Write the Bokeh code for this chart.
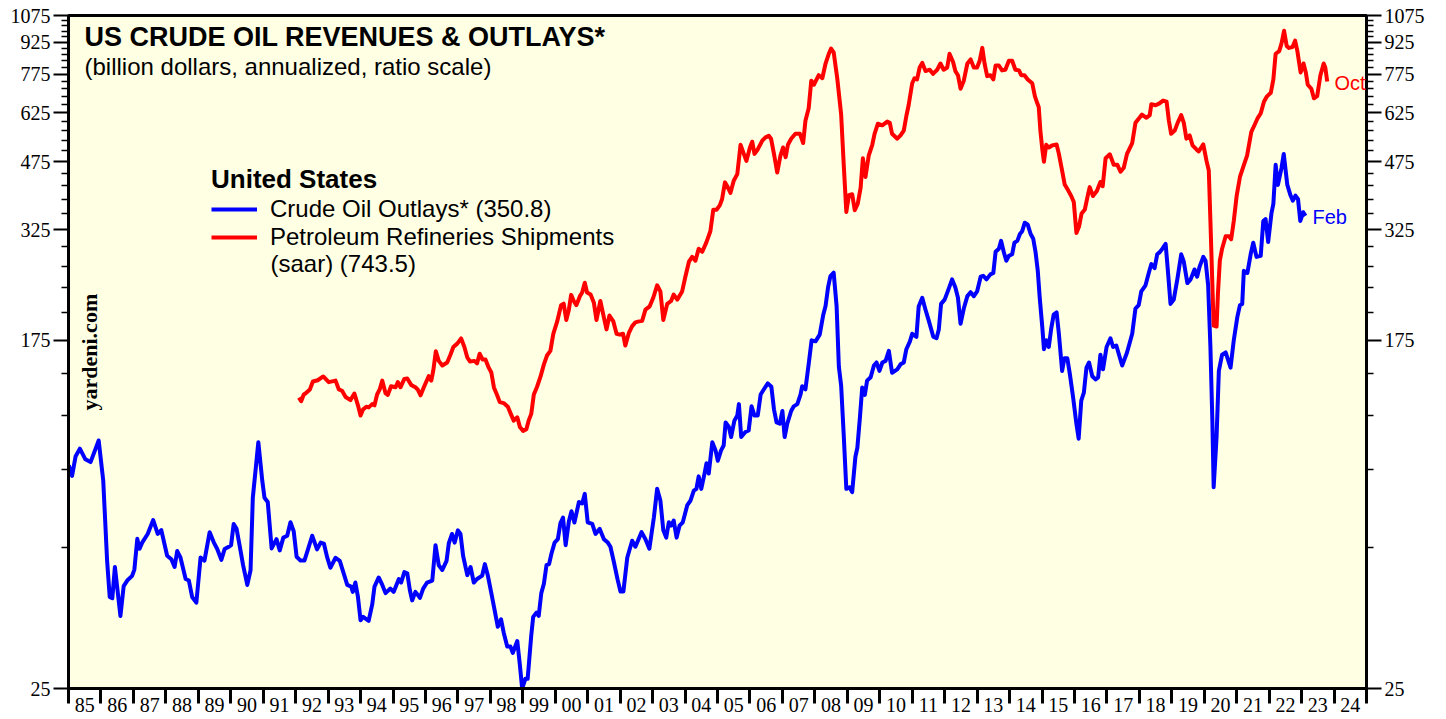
import math
from bokeh.plotting import figure
from bokeh.models import (FixedTicker, LogAxis, PrintfTickFormatter, Label,
                          Legend, LegendItem)
from bokeh.embed import file_html
from bokeh.resources import INLINE

# ---------------- data ----------------
year_labels = ["85", "86", "87", "88", "89", "90", "91", "92", "93", "94", "95", "96", "97", "98",
               "99", "00", "01", "02", "03", "04", "05", "06", "07", "08", "09", "10", "11", "12",
               "13", "14", "15", "16", "17", "18", "19", "20", "21", "22", "23", "24"]
year_starts = list(range(1985, 2026))
ytick_major = [25, 175, 325, 475, 625, 775, 925, 1075]

# Crude Oil Outlays (blue), billion dollars
outlay_dates = [
    1985.01, 1985.11, 1985.22, 1985.35, 1985.52, 1985.68, 1985.93, 1986.07, 1986.19, 1986.27,
    1986.35, 1986.43, 1986.60, 1986.70, 1986.81, 1986.96, 1987.03, 1987.12, 1987.19, 1987.27,
    1987.44, 1987.61, 1987.75, 1987.86, 1988.04, 1988.17, 1988.27, 1988.35, 1988.45, 1988.61,
    1988.71, 1988.81, 1988.94, 1989.07, 1989.19, 1989.35, 1989.48, 1989.58, 1989.71, 1989.81,
    1989.94, 1990.01, 1990.09, 1990.18, 1990.30, 1990.38, 1990.51, 1990.61, 1990.68, 1990.85,
    1990.97, 1991.04, 1991.14, 1991.26, 1991.41, 1991.51, 1991.62, 1991.74, 1991.84, 1991.94,
    1992.03, 1992.15, 1992.27, 1992.37, 1992.51, 1992.66, 1992.77, 1992.87, 1992.97, 1993.07,
    1993.23, 1993.36, 1993.48, 1993.59, 1993.71, 1993.76, 1993.84, 1993.92, 1994.00, 1994.08,
    1994.25, 1994.36, 1994.43, 1994.56, 1994.67, 1994.77, 1994.92, 1995.02, 1995.18, 1995.25,
    1995.35, 1995.44, 1995.52, 1995.59, 1995.69, 1995.83, 1995.93, 1996.05, 1996.21, 1996.31,
    1996.41, 1996.52, 1996.65, 1996.72, 1996.82, 1996.90, 1997.00, 1997.08, 1997.16, 1997.29,
    1997.39, 1997.49, 1997.59, 1997.75, 1997.83, 1997.92, 1998.03, 1998.13, 1998.23, 1998.33,
    1998.41, 1998.52, 1998.62, 1998.69, 1998.83, 1998.91, 1998.98, 1999.08, 1999.15, 1999.26,
    1999.32, 1999.42, 1999.49, 1999.57, 1999.65, 1999.73, 1999.81, 1999.88, 1999.98, 2000.08,
    2000.16, 2000.24, 2000.32, 2000.42, 2000.50, 2000.59, 2000.73, 2000.83, 2000.91, 2001.00,
    2001.14, 2001.24, 2001.37, 2001.50, 2001.62, 2001.70, 2001.80, 2001.92, 2002.01, 2002.10,
    2002.22, 2002.37, 2002.47, 2002.66, 2002.78, 2002.90, 2003.04, 2003.14, 2003.24, 2003.33,
    2003.42, 2003.50, 2003.57, 2003.65, 2003.74, 2003.83, 2003.93, 2004.07, 2004.17, 2004.27,
    2004.35, 2004.42, 2004.50, 2004.60, 2004.66, 2004.73, 2004.84, 2004.94, 2005.01, 2005.11,
    2005.19, 2005.25, 2005.35, 2005.42, 2005.52, 2005.61, 2005.66, 2005.73, 2005.86, 2005.96,
    2006.05, 2006.14, 2006.24, 2006.33, 2006.43, 2006.55, 2006.66, 2006.74, 2006.82, 2006.92,
    2007.00, 2007.07, 2007.15, 2007.27, 2007.35, 2007.46, 2007.56, 2007.61, 2007.71, 2007.81,
    2007.90, 2008.02, 2008.15, 2008.26, 2008.33, 2008.41, 2008.48, 2008.58, 2008.67, 2008.74,
    2008.81, 2008.89, 2008.97, 2009.07, 2009.15, 2009.25, 2009.31, 2009.39, 2009.46, 2009.54,
    2009.61, 2009.72, 2009.82, 2009.90, 2009.99, 2010.08, 2010.18, 2010.28, 2010.38, 2010.54,
    2010.64, 2010.74, 2010.82, 2010.93, 2011.00, 2011.13, 2011.20, 2011.31, 2011.41, 2011.51,
    2011.65, 2011.75, 2011.82, 2011.89, 2012.00, 2012.13, 2012.23, 2012.33, 2012.41, 2012.49,
    2012.59, 2012.70, 2012.80, 2012.90, 2013.00, 2013.11, 2013.19, 2013.29, 2013.41, 2013.50,
    2013.57, 2013.67, 2013.74, 2013.82, 2013.90, 2013.98, 2014.08, 2014.15, 2014.24, 2014.32,
    2014.39, 2014.47, 2014.56, 2014.65, 2014.73, 2014.80, 2014.87, 2014.93, 2015.01, 2015.06,
    2015.14, 2015.21, 2015.28, 2015.36, 2015.45, 2015.52, 2015.62, 2015.69, 2015.78, 2015.86,
    2015.96, 2016.06, 2016.13, 2016.21, 2016.29, 2016.37, 2016.45, 2016.55, 2016.65, 2016.73,
    2016.80, 2016.88, 2016.99, 2017.11, 2017.19, 2017.29, 2017.47, 2017.62, 2017.78, 2017.88,
    2017.98, 2018.06, 2018.19, 2018.29, 2018.37, 2018.47, 2018.55, 2018.63, 2018.71, 2018.81,
    2018.88, 2018.96, 2019.06, 2019.17, 2019.29, 2019.37, 2019.48, 2019.58, 2019.70, 2019.78,
    2019.86, 2019.97, 2020.04, 2020.12, 2020.19, 2020.25, 2020.29, 2020.38, 2020.45, 2020.55,
    2020.66, 2020.81, 2020.91, 2021.02, 2021.10, 2021.17, 2021.22, 2021.33, 2021.43, 2021.51,
    2021.61, 2021.74, 2021.82, 2021.89, 2021.97, 2022.07, 2022.13, 2022.20, 2022.27, 2022.38,
    2022.45, 2022.56, 2022.66, 2022.73, 2022.81, 2022.89, 2022.96, 2023.05, 2023.12]
outlay_values = [
    87, 82, 91.6, 95.5, 90, 88.6, 100, 80, 51, 41.7,
    41.4, 49.3, 37.5, 44.3, 45.7, 46.9, 48.6, 57.7, 54.6, 56.5,
    59.3, 64.1, 59.3, 60.6, 52.5, 51.5, 49.3, 53.9, 52, 46.1,
    45.7, 41.7, 40.4, 52, 51.1, 59.9, 56.5, 54.6, 51.3, 54.5,
    55.2, 55.7, 62.7, 61, 54.1, 49.8, 44.6, 48.4, 72.6, 99,
    80, 72.6, 70.9, 54.7, 57.6, 54.1, 58.1, 58.7, 63.3, 60.2,
    52.2, 51.1, 51.1, 54.1, 58.7, 54.4, 56.5, 56.2, 52.1, 49.1,
    51.9, 51, 47.6, 44.6, 44.2, 42.9, 45.2, 41.7, 36.6, 37.3,
    36.5, 40, 44.2, 46.5, 44.6, 42.6, 43.7, 42.9, 46.1, 45.2,
    47.9, 47.6, 43.3, 40.9, 42.9, 41.5, 43.7, 45.2, 45.7, 55.7,
    49.8, 48.5, 51, 56.3, 59.3, 56.5, 60.5, 59.3, 52.5, 47.1,
    49.3, 45.2, 46.1, 47, 50.1, 47.1, 42.6, 38.8, 35.3, 36.8,
    34.2, 31.6, 31.6, 30.5, 32.6, 28.5, 25, 26.4, 26.4, 33.6,
    37.3, 38.2, 37.5, 42.6, 44.9, 49.8, 50.1, 53, 56.5, 57.6,
    63, 65, 55.7, 63.7, 67.3, 63.2, 70.9, 70.3, 74.2, 63.3,
    62.7, 59.3, 61, 57.6, 56.5, 55.2, 51, 46, 43, 43,
    52, 57.1, 55.2, 59.9, 57.6, 54.6, 65.1, 76.3, 71.5, 60.5,
    58.1, 63.3, 62.1, 63.9, 58.1, 62.1, 63.3, 69.7, 71.5, 75.5,
    76.3, 81.8, 76.3, 83.1, 88, 83.1, 99, 94.6, 89.3, 94.6,
    97.2, 110.6, 107.8, 101.9, 111.7, 114.9, 122.5, 102, 104.8, 105.7,
    121, 114.9, 114.9, 129.3, 133.1, 137.6, 135, 119, 110.6, 109.8,
    117.9, 101.9, 109.8, 117.9, 121, 122.5, 129.3, 135.4, 133.1, 153.3,
    175, 174, 180.6, 202, 212, 236, 250.6, 255.3, 212, 151,
    136, 103, 76.3, 77, 74.9, 91.3, 96, 114, 134.5, 129,
    139.7, 142.3, 152, 154.6, 147.5, 154.6, 156, 165, 146, 148.8,
    153, 154.6, 166.5, 174, 181.5, 178.5, 211.5, 222, 207.7, 195.3,
    178.5, 177, 186, 214.5, 219.7, 234, 246, 235, 222, 192,
    209, 224, 229, 224, 230, 249.7, 251, 246, 253, 255,
    287, 292, 305, 287, 273, 280.6, 283, 302, 305, 317,
    322, 337.7, 334, 317, 308.7, 287, 258, 222, 188, 166.5,
    175, 168.6, 186, 202, 204.5, 181.5, 147.5, 158.3, 158.3, 144.7,
    127, 109.8, 101, 125, 130.6, 150.2, 154.6, 143.2, 140.7, 142.3,
    161.5, 148.8, 168.6, 177, 168.6, 170, 152, 163.5, 181.5, 209,
    213, 230, 238, 255, 268, 262, 283, 286.5, 292, 300,
    258, 214.5, 219.7, 246, 283, 271.5, 241, 246, 260, 249.7,
    264.6, 279, 273, 238, 168.6, 111.7, 77, 102, 147.5, 161.5,
    163.5, 150.2, 175, 199.5, 213, 214.5, 258, 255, 283, 302,
    279, 280.6, 341, 344.5, 303, 355.6, 375, 466.6, 417, 458,
    496, 417, 393, 382, 393, 385, 341, 358, 350.8]

# Petroleum Refineries Shipments (red), billion dollars, saar
ship_dates = [
    1992.10, 1992.17, 1992.25, 1992.30, 1992.44, 1992.53, 1992.68, 1992.85, 1993.02, 1993.23,
    1993.33, 1993.43, 1993.54, 1993.69, 1993.81, 1993.92, 1994.00, 1994.08, 1994.18, 1994.25,
    1994.36, 1994.43, 1994.51, 1994.59, 1994.67, 1994.77, 1994.84, 1994.94, 1995.08, 1995.15,
    1995.23, 1995.35, 1995.44, 1995.56, 1995.69, 1995.76, 1995.85, 1995.95, 1996.10, 1996.18,
    1996.24, 1996.32, 1996.41, 1996.52, 1996.67, 1996.77, 1996.86, 1996.98, 1997.10, 1997.20,
    1997.29, 1997.37, 1997.51, 1997.59, 1997.67, 1997.76, 1997.85, 1997.95, 1998.03, 1998.11,
    1998.21, 1998.29, 1998.41, 1998.54, 1998.62, 1998.72, 1998.83, 1998.91, 1999.01, 1999.11,
    1999.18, 1999.26, 1999.34, 1999.44, 1999.55, 1999.65, 1999.75, 1999.85, 1999.94, 2000.06,
    2000.18, 2000.26, 2000.34, 2000.42, 2000.49, 2000.57, 2000.65, 2000.76, 2000.83, 2000.91,
    2000.98, 2001.09, 2001.19, 2001.27, 2001.39, 2001.48, 2001.58, 2001.67, 2001.79, 2001.89,
    2001.99, 2002.09, 2002.16, 2002.27, 2002.37, 2002.47, 2002.58, 2002.68, 2002.78, 2002.91,
    2003.02, 2003.14, 2003.24, 2003.33, 2003.45, 2003.57, 2003.65, 2003.76, 2003.91, 2004.01,
    2004.12, 2004.22, 2004.32, 2004.42, 2004.53, 2004.66, 2004.78, 2004.87, 2004.97, 2005.07,
    2005.14, 2005.23, 2005.30, 2005.40, 2005.50, 2005.61, 2005.71, 2005.81, 2005.89, 2006.00,
    2006.07, 2006.14, 2006.24, 2006.38, 2006.48, 2006.58, 2006.65, 2006.74, 2006.84, 2006.94,
    2007.02, 2007.10, 2007.17, 2007.27, 2007.40, 2007.54, 2007.64, 2007.71, 2007.81, 2007.89,
    2007.97, 2008.12, 2008.23, 2008.33, 2008.43, 2008.50, 2008.58, 2008.69, 2008.81, 2008.89,
    2008.97, 2009.05, 2009.15, 2009.23, 2009.32, 2009.41, 2009.48, 2009.56, 2009.66, 2009.77,
    2009.84, 2009.94, 2010.08, 2010.23, 2010.31, 2010.38, 2010.54, 2010.64, 2010.74, 2010.82,
    2010.89, 2011.00, 2011.07, 2011.15, 2011.23, 2011.31, 2011.41, 2011.54, 2011.64, 2011.77,
    2011.87, 2011.97, 2012.08, 2012.15, 2012.26, 2012.33, 2012.41, 2012.49, 2012.59, 2012.70,
    2012.80, 2012.90, 2013.00, 2013.08, 2013.16, 2013.23, 2013.31, 2013.41, 2013.50, 2013.57,
    2013.67, 2013.77, 2013.87, 2013.98, 2014.08, 2014.18, 2014.29, 2014.36, 2014.46, 2014.56,
    2014.70, 2014.78, 2014.85, 2014.90, 2014.95, 2015.01, 2015.06, 2015.13, 2015.21, 2015.31,
    2015.45, 2015.52, 2015.62, 2015.70, 2015.81, 2015.90, 2015.98, 2016.06, 2016.14, 2016.22,
    2016.32, 2016.41, 2016.47, 2016.57, 2016.69, 2016.80, 2016.87, 2016.96, 2017.09, 2017.21,
    2017.32, 2017.42, 2017.52, 2017.62, 2017.78, 2017.88, 2018.01, 2018.08, 2018.22, 2018.32,
    2018.37, 2018.50, 2018.62, 2018.73, 2018.84, 2018.91, 2018.98, 2019.09, 2019.18, 2019.29,
    2019.37, 2019.45, 2019.55, 2019.64, 2019.76, 2019.83, 2019.97, 2020.07, 2020.14, 2020.19,
    2020.24, 2020.29, 2020.38, 2020.42, 2020.48, 2020.55, 2020.66, 2020.76, 2020.83, 2020.91,
    2021.00, 2021.10, 2021.22, 2021.32, 2021.45, 2021.55, 2021.65, 2021.74, 2021.84, 2021.92,
    2022.05, 2022.13, 2022.20, 2022.31, 2022.38, 2022.46, 2022.54, 2022.61, 2022.72, 2022.80,
    2022.87, 2022.97, 2023.06, 2023.13, 2023.19, 2023.30, 2023.38, 2023.48, 2023.58, 2023.68,
    2023.73, 2023.79]
ship_values = [
    127, 124.5, 129.3, 130, 133, 139, 140, 143, 138.5, 139.7,
    133, 132, 127.5, 125.3, 130, 121.7, 115, 119, 120.7, 120.3,
    122.5, 121.7, 129.3, 133, 139.7, 130.2, 129, 135.4, 134.6, 138.5,
    134.6, 141, 141.4, 136.4, 134.6, 133, 128.7, 134.6, 143.2, 139.7,
    147.5, 164.6, 156, 152, 154.6, 161.5, 168.6, 171.8, 176.8, 168.6,
    159, 155.5, 156, 153.8, 162.4, 157.2, 157.2, 150.2, 146.2, 134.5,
    128.7, 123.9, 123.2, 120.7, 116.5, 111.7, 113.8, 107.8, 105.5, 106.5,
    111.7, 116, 129.3, 135, 143.2, 153, 161, 165, 181.5, 194.5,
    213, 214.8, 196, 207.7, 225.6, 218, 213, 224, 228.6, 241.5,
    228.6, 226, 216, 196, 218, 202, 186, 201, 194.5, 181.5,
    180.6, 181.5, 170, 182.5, 189.4, 193.5, 194.5, 195.3, 207.7, 211.6,
    222, 238, 230, 196, 214.5, 218, 226, 219.7, 230, 249.7,
    271.5, 279, 273, 292, 287, 303, 322, 363, 363, 372,
    385, 423, 414, 399, 427, 443, 522, 496, 477, 514,
    531, 496, 508.5, 534, 544, 549, 540, 496, 447, 491,
    514, 487, 522, 540, 555, 555, 527, 597, 640, 747,
    730, 770, 757, 822, 868, 893, 875, 757, 619, 467,
    358.7, 394, 396, 362, 375, 410, 484, 436, 491, 522,
    555, 587, 582, 594, 590, 555, 540, 550, 565, 613,
    651, 736, 757, 752, 804, 825, 788, 794, 776, 794,
    822, 794, 804, 868, 829, 788, 770, 714, 747, 822,
    841, 804, 804, 835, 897, 822, 766, 770, 752, 813,
    813, 791, 794, 835, 835, 794, 791, 770, 770, 752,
    736, 685, 660, 644, 565, 508.5, 475, 522, 514, 520,
    523, 496, 452, 418, 404, 392, 379, 319, 330, 355.6,
    363.5, 393, 412, 392, 403, 424, 414, 484, 495, 467,
    467, 449, 459, 496, 527, 590, 608, 618, 607, 616,
    655, 651, 658, 668, 664, 597, 555, 565, 590, 616,
    590, 540, 550, 520, 508.5, 503, 523, 477, 452, 341,
    253, 190, 189, 226, 273, 292, 313, 313, 308, 341,
    393, 436, 466, 491, 561, 583, 607, 622, 664, 682,
    698, 752, 868, 881, 919, 987, 907, 897, 901, 934,
    881, 782, 822, 782, 730, 714, 677, 685, 770, 822,
    804, 743.5]

# ---------------- layout helpers (page pixel -> data coords, for text placement) ----------------
FRAME_L, FRAME_R, FRAME_T, FRAME_B = 68, 1366, 15, 688
W, H = 1446, 719
X0, X1, Y0, Y1 = 1985.0, 2025.0, 25.0, 1075.0


def fx(px):
    return X0 + (px - FRAME_L) * (X1 - X0) / (FRAME_R - FRAME_L)


def fy(py):
    return Y0 * math.exp((FRAME_B - py) * math.log(Y1 / Y0) / (FRAME_B - FRAME_T))


SANS = "Liberation Sans"
SERIF = "Liberation Serif"

p = figure(width=W, height=H, x_range=(X0, X1), y_range=(Y0, Y1), y_axis_type="log",
           output_backend="svg", toolbar_location=None,
           min_border_left=FRAME_L, min_border_right=W - FRAME_R,
           min_border_top=FRAME_T, min_border_bottom=H - FRAME_B,
           background_fill_color="#FFFFE4", border_fill_color="white")
p.xgrid.visible = False
p.ygrid.visible = False
p.outline_line_color = "black"
p.outline_line_width = 3
p.outline_line_alpha = 1

blue = p.line(outlay_dates, outlay_values, line_color="#0000FF", line_width=4, line_join="round")
red = p.line(ship_dates, ship_values, line_color="#FF0000", line_width=4, line_join="round")

# x axis: labels centered in each year, tick marks at the year boundaries
mid_years = [y + 0.5 for y in year_starts[:-1]]
xa = p.xaxis[0]
xa.ticker = FixedTicker(ticks=mid_years, minor_ticks=year_starts)
xa.major_label_overrides = {m: lab for m, lab in zip(mid_years, year_labels)}
xa.major_label_text_font = SERIF
xa.major_label_text_font_size = "20px"
xa.major_label_text_color = "black"
xa.major_label_standoff = -6
xa.major_tick_out = 0
xa.major_tick_in = 0
xa.minor_tick_out = 15
xa.minor_tick_in = 0
xa.minor_tick_line_width = 3
xa.minor_tick_line_color = "black"
xa.axis_line_width = 3
xa.axis_line_color = "black"

# y axes (left + right), ratio scale
minor = [v for v in range(25, 1076, 30) if v not in ytick_major]
ra = LogAxis()
p.add_layout(ra, "right")
for ax in (p.yaxis[0], ra):
    ax.ticker = FixedTicker(ticks=ytick_major, minor_ticks=minor)
    ax.formatter = PrintfTickFormatter(format="%d")
    ax.major_tick_out = 15
    ax.major_tick_in = 0
    ax.minor_tick_out = 7
    ax.minor_tick_in = 0
    ax.major_tick_line_width = 2
    ax.minor_tick_line_width = 1.5
    ax.major_tick_line_color = "black"
    ax.minor_tick_line_color = "black"
    ax.axis_line_width = 3
    ax.axis_line_color = "black"
    ax.major_label_text_font = SERIF
    ax.major_label_text_font_size = "20px"
    ax.major_label_text_color = "black"
    ax.major_label_standoff = 3

# titles
p.add_layout(Label(x=fx(84), y=fy(36), text="US CRUDE OIL REVENUES & OUTLAYS*",
                   text_font=SANS, text_font_style="bold", text_font_size="27px",
                   text_baseline="middle", text_color="black"))
p.add_layout(Label(x=fx(84), y=fy(66), text="(billion dollars, annualized, ratio scale)",
                   text_font=SANS, text_font_size="24px", text_baseline="middle",
                   text_color="black"))
p.add_layout(Label(x=fx(89), y=fy(410), text="yardeni.com", angle=math.pi / 2,
                   text_font=SERIF, text_font_style="bold", text_font_size="22px",
                   text_align="left", text_baseline="middle", text_color="black"))

# end-of-series tags
p.add_layout(Label(x=fx(1334), y=fy(82), text="Oct", text_font=SANS, text_font_size="20px",
                   text_baseline="middle", text_color="#FF0000"))
p.add_layout(Label(x=fx(1312), y=fy(216), text="Feb", text_font=SANS, text_font_size="20px",
                   text_baseline="middle", text_color="#0000FF"))

# legend
legend = Legend(items=[LegendItem(label="Crude Oil Outlays* (350.8)", renderers=[blue]),
                       LegendItem(label="Petroleum Refineries Shipments", renderers=[red])],
                title="United States", location=(143, 437),
                title_text_font=SANS, title_text_font_style="bold", title_text_font_size="26px",
                title_text_color="black", title_standoff=0,
                label_text_font=SANS, label_text_font_size="24px", label_text_color="black",
                glyph_width=46, glyph_height=28, label_height=28, label_standoff=13,
                padding=0, margin=0, spacing=-2, border_line_alpha=0, background_fill_alpha=0)
p.add_layout(legend)
p.add_layout(Label(x=fx(270), y=fy(263), text="(saar) (743.5)", text_font=SANS,
                   text_font_size="24px", text_baseline="middle", text_color="black"))

open("out.html", "w").write(file_html(p, INLINE))
